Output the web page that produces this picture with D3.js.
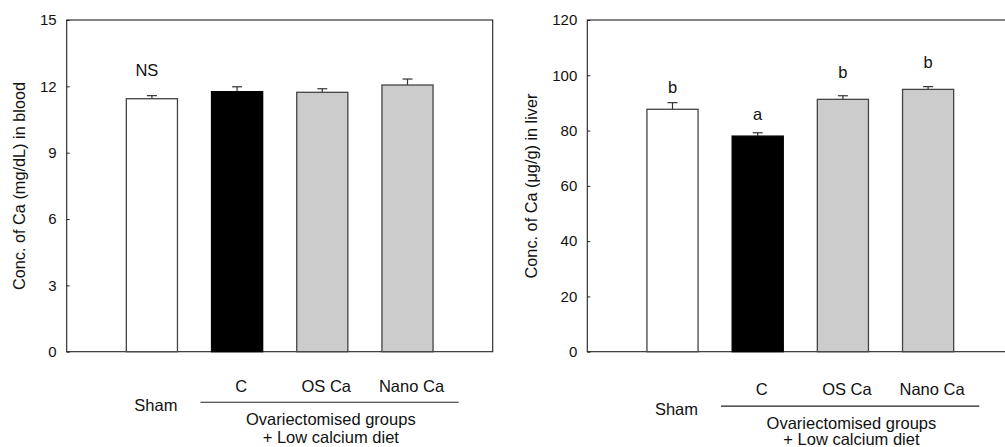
<!DOCTYPE html>
<html>
<head>
<meta charset="utf-8">
<script src="https://cdn.jsdelivr.net/npm/d3@7"></script>
<style>
  html, body { margin: 0; padding: 0; background: #fff; }
  svg { display: block; font-family: "Liberation Sans", Arial, sans-serif; }
</style>
</head>
<body>
<svg id="chart" width="1005" height="447"></svg>
<script>
// ---- data ----
const groups = ["Sham", "C", "OS Ca", "Nano Ca"];
const bloodMeans = [11.44, 11.76, 11.73, 12.06];
const bloodErrs = [0.14, 0.22, 0.16, 0.27];
const bloodTicks = [0, 3, 6, 9, 12, 15];
const bloodNote = "NS";
const bloodNoteValue = 12.45;
const liverMeans = [87.7, 78.0, 91.3, 94.9];
const liverErrs = [2.4, 1.2, 1.3, 1.0];
const liverTicks = [0, 20, 40, 60, 80, 100, 120];
const liverLetters = ["b", "a", "b", "b"];
const liverLetterValues = [93.5, 83.8, 98.9, 102.5];
const groupTitle = ["Ovariectomised groups", "+ Low calcium diet"];
const bloodTitle = "Conc. of Ca (mg/dL) in blood";
const liverTitle = "Conc. of Ca (\u03bcg/g) in liver";

// ---- styles ----
const fills = ["#ffffff", "#000000", "#cccccc", "#cccccc"];
const svg = d3.select("#chart");

function panel(opt) {
  const g = svg.append("g");
  const x = d3.scaleLinear().domain([0, 5]).range([opt.left, opt.left + 426]);
  const y = d3.scaleLinear().domain([0, opt.max]).range([351.7, 20]);
  const bw = (x(1) - x(0)) * 0.6;

  // frame
  g.append("rect")
    .attr("x", x(0)).attr("y", y(opt.max))
    .attr("width", x(5) - x(0)).attr("height", y(0) - y(opt.max))
    .attr("fill", "none").attr("stroke", "#222").attr("stroke-width", 1.1);

  // y axis with inward ticks
  const ax = d3.axisLeft(y).tickValues(opt.ticks).tickSize(-3).tickPadding(10)
    .tickFormat(d3.format("d"));
  const axg = g.append("g").attr("transform", `translate(${x(0)},0)`).call(ax);
  axg.attr("font-size", null).attr("font-family", null);
  axg.select(".domain").remove();
  axg.selectAll("line").attr("stroke", "#222");
  axg.selectAll("text").style("font-size", "15px").attr("fill", "#111");

  // error bars (upper only)
  const eg = g.append("g").attr("stroke", "#333").attr("stroke-width", 1.2);
  opt.means.forEach((m, i) => {
    const cx = x(i + 1);
    eg.append("line").attr("x1", cx).attr("x2", cx)
      .attr("y1", y(m)).attr("y2", y(m + opt.errs[i]));
    eg.append("line").attr("x1", cx - 5).attr("x2", cx + 5)
      .attr("y1", y(m + opt.errs[i])).attr("y2", y(m + opt.errs[i]));
  });

  // bars
  g.append("g").selectAll("rect").data(opt.means).join("rect")
    .attr("x", (d, i) => x(i + 1) - bw / 2)
    .attr("y", d => y(d))
    .attr("width", bw)
    .attr("height", d => y(0) - y(d))
    .attr("fill", (d, i) => fills[i])
    .attr("stroke", (d, i) => i === 1 ? "#000" : "#444")
    .attr("stroke-width", 1.3);

  // y title
  g.append("text")
    .attr("transform", `translate(${opt.titleX},186) rotate(-90)`)
    .attr("text-anchor", "middle").attr("font-size", 16.3).attr("fill", "#111")
    .text(opt.title);

  // category labels
  const dy = opt.dy;
  groups.forEach((name, i) => {
    g.append("text")
      .attr("x", x(i + 1) + 4)
      .attr("y", (i === 0 ? 411 : 391.5) + dy)
      .attr("text-anchor", "middle").attr("font-size", 16.5).attr("fill", "#111")
      .text(name);
  });
  g.append("line")
    .attr("x1", x(1.57)).attr("x2", x(4.6))
    .attr("y1", 402.3 + dy).attr("y2", 402.3 + dy)
    .attr("stroke", "#222").attr("stroke-width", 1.1);
  groupTitle.forEach((t, k) => {
    g.append("text")
      .attr("x", x(3.1)).attr("y", 425 + k * 17.5 + dy * (k === 1 ? 0.6 : 1))
      .attr("text-anchor", "middle").attr("font-size", 16.5).attr("fill", "#111")
      .text(t);
  });
  return { g, x, y };
}

const left = panel({
  left: 66.7, max: 15, ticks: bloodTicks, means: bloodMeans, errs: bloodErrs,
  title: bloodTitle, titleX: 25, dy: 0
});
left.g.append("text")
  .attr("x", left.x(1) - 5).attr("y", left.y(bloodNoteValue))
  .attr("text-anchor", "middle").attr("font-size", 16.5).attr("fill", "#111")
  .text(bloodNote);

const right = panel({
  left: 587.3, max: 120, ticks: liverTicks, means: liverMeans, errs: liverErrs,
  title: liverTitle, titleX: 537, dy: 3.8
});
right.g.append("g").selectAll("text").data(liverLetters).join("text")
  .attr("x", (d, i) => right.x(i + 1))
  .attr("y", (d, i) => right.y(liverLetterValues[i]))
  .attr("text-anchor", "middle").attr("font-size", 16.5).attr("fill", "#111")
  .text(d => d);
</script>
</body>
</html>
